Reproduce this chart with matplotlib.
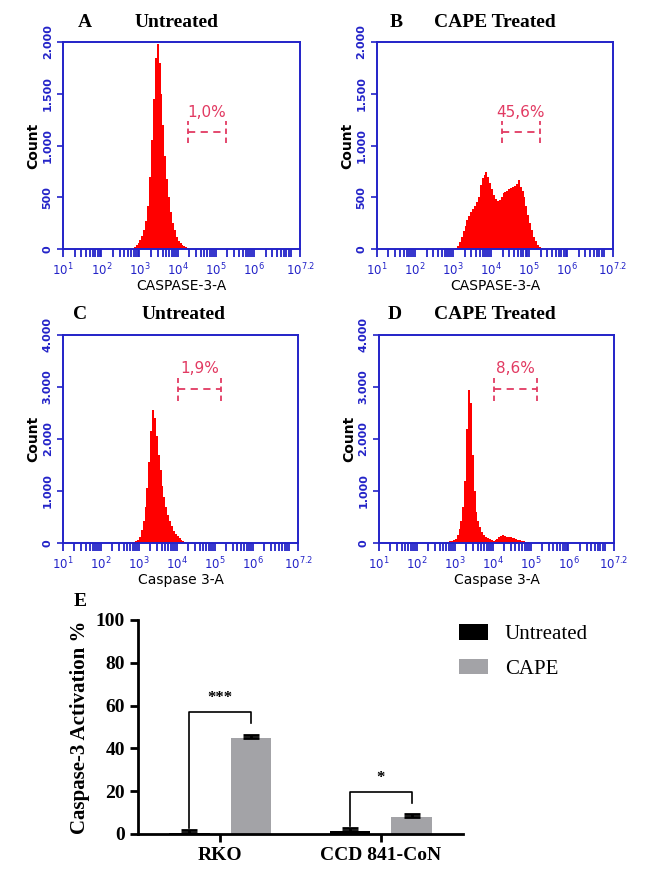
import numpy as np
import matplotlib.pyplot as plt
from matplotlib.ticker import FuncFormatter, LogLocator, NullFormatter

# flow histograms: counts in bins of 0.05 decade, first left edge (log10) given
bin_step = 0.05

a_start = 2.85
a_counts = [20, 40, 60, 90, 130, 180, 270, 420, 700, 1050, 1450, 1850, 1980, 1800,
            1500, 1200, 900, 680, 500, 360, 250, 180, 120, 80, 55, 40, 30, 20, 10]

b_start = 3.05
b_counts = [5, 30, 70, 120, 170, 220, 280, 320, 360, 390, 420, 450, 500, 620, 690,
            720, 740, 700, 640, 580, 520, 480, 460, 470, 500, 540, 550, 560, 580,
            590, 600, 610, 630, 670, 600, 560, 500, 420, 330, 250, 180, 120, 75, 40,
            20, 5]

c_start = 2.85
c_counts = [15, 30, 60, 120, 250, 420, 700, 1050, 1550, 2150, 2550, 2400, 2050,
            1700, 1400, 1100, 880, 700, 540, 420, 320, 240, 180, 130, 90, 60, 35, 15]

d_start = 2.75
d_counts = [10, 20, 30, 40, 50, 80, 150, 260, 420, 700, 1200, 2200, 2950, 2700,
            1700, 1000, 600, 420, 300, 220, 160, 120, 90, 70, 55, 45, 50, 80, 120,
            140, 150, 140, 125, 120, 110, 100, 90, 80, 65, 50, 40, 30, 20, 10]

# gates (log10 x range, y level) and percentages
gate_lo = [4.27, 4.28, 4.03, 4.03]
gate_hi = [5.26, 5.28, 5.17, 5.17]
gate_y = [1130, 1130, 2960, 2960]
gate_pct = ['1,0%', '45,6%', '1,9%', '8,6%']

hist_ymax = [2000, 2000, 4000, 4000]
hist_xlabel = ['CASPASE-3-A', 'CASPASE-3-A', 'Caspase 3-A', 'Caspase 3-A']
panel_letter = ['A', 'B', 'C', 'D']
panel_title = ['Untreated', 'CAPE Treated', 'Untreated', 'CAPE Treated']
decades = ['1', '2', '3', '4', '5', '6', '7.2']

# bar chart
cells = ['RKO', 'CCD 841-CoN']
untreated = [0.6, 1.5]
untreated_err = [1.2, 1.3]
cape = [44.9, 8.1]
cape_err = [1.4, 1.2]
sig_top = [57, 19.6]
sig_left = [3, 3.5]
sig_right = [52, 14.5]
sig_text = ['***', '*']

blue = '#2323c8'
gate_red = '#e23a62'

fig = plt.figure(figsize=(6.5, 8.89), dpi=100)

rects = [(0.097, 0.7199, 0.3646, 0.2328), (0.58, 0.7199, 0.363, 0.2328),
         (0.097, 0.3892, 0.3615, 0.234), (0.583, 0.3892, 0.3615, 0.234)]
letter_pos = [(0.131, 0.975), (0.609, 0.975), (0.123, 0.646), (0.607, 0.646)]
title_pos = [(0.272, 0.975), (0.762, 0.975), (0.282, 0.646), (0.762, 0.646)]

starts = [a_start, b_start, c_start, d_start]
counts = [a_counts, b_counts, c_counts, d_counts]

for i in range(4):
    ax = fig.add_axes(rects[i])
    n = len(counts[i])
    edges = 10 ** (starts[i] + bin_step * np.arange(n + 1))
    ax.stairs(counts[i], edges, fill=True, color='#ff0000', lw=0)
    ax.set_xscale('log')
    ax.set_xlim(10, 10 ** 7.2)
    ax.set_ylim(0, hist_ymax[i])
    for s in ax.spines.values():
        s.set_color(blue)
        s.set_linewidth(1.4)
    ax.set_yticks(np.linspace(0, hist_ymax[i], 5))
    ax.yaxis.set_major_formatter(FuncFormatter(lambda v, p: '0' if v == 0 else '{:,.0f}'.format(v).replace(',', '.')))
    ax.tick_params(axis='y', colors=blue, labelsize=8, length=4, width=1.2)
    for lab in ax.get_yticklabels():
        lab.set_rotation(90)
        lab.set_va('center')
        lab.set_fontweight('bold')
    ax.set_xticks([10 ** float(e) for e in decades])
    ax.set_xticklabels([r'$10^{%s}$' % e for e in decades])
    ax.xaxis.set_minor_locator(LogLocator(base=10, subs=np.arange(2, 10), numticks=20))
    ax.xaxis.set_minor_formatter(NullFormatter())
    ax.tick_params(axis='x', which='both', colors=blue, labelsize=8.5, length=6, width=1.3,
                   pad=3)
    ax.set_xlabel(hist_xlabel[i], fontsize=10, labelpad=1)
    ax.set_ylabel('Count', fontsize=10, fontweight='bold', labelpad=2)

    # gate
    lo, hi, gy = 10 ** gate_lo[i], 10 ** gate_hi[i], gate_y[i]
    dy = hist_ymax[i] * 0.055
    ax.plot([lo, hi], [gy, gy], color=gate_red, lw=1.3, ls=(0, (4, 3)))
    ax.plot([lo, lo], [gy - dy, gy + dy], color=gate_red, lw=1.3, ls=(0, (3, 2)))
    ax.plot([hi, hi], [gy - dy, gy + dy], color=gate_red, lw=1.3, ls=(0, (3, 2)))
    ax.text(10 ** ((gate_lo[i] + gate_hi[i]) / 2), gy + dy * 1.1, gate_pct[i],
            color=gate_red, fontsize=11, ha='center', va='bottom')

    fig.text(letter_pos[i][0], letter_pos[i][1], panel_letter[i], fontsize=14,
             fontweight='bold', family='Liberation Serif', ha='center', va='center')
    fig.text(title_pos[i][0], title_pos[i][1], panel_title[i], fontsize=14,
             fontweight='bold', family='Liberation Serif', ha='center', va='center')

# panel E
axe = fig.add_axes([0.2123, 0.0619, 0.5, 0.2407])
x = np.arange(len(cells))
w = 0.25
off = 0.19
axe.bar(x - off, untreated, w, color='black', label='Untreated',
        yerr=[[0] * 2, untreated_err], capsize=6, error_kw=dict(lw=2, capthick=2))
axe.bar(x + off, cape, w, color='#a3a3a7', label='CAPE',
        yerr=[[0] * 2, cape_err], capsize=6, error_kw=dict(lw=2, capthick=2))
for j in range(len(cells)):
    axe.plot([x[j] - off, x[j] - off, x[j] + off, x[j] + off],
             [sig_left[j], sig_top[j], sig_top[j], sig_right[j]], color='black', lw=1.2)
    axe.text(x[j], sig_top[j] + 3, sig_text[j], ha='center', va='bottom',
             fontsize=12, fontweight='bold', family='Liberation Serif')
axe.set_xlim(-0.51, 1.51)
axe.set_ylim(0, 100)
axe.set_yticks([0, 20, 40, 60, 80, 100])
axe.set_xticks(x)
axe.set_xticklabels(cells)
axe.spines['top'].set_visible(False)
axe.spines['right'].set_visible(False)
axe.spines['left'].set_linewidth(2)
axe.spines['bottom'].set_linewidth(2)
axe.tick_params(width=2, length=6, labelsize=14)
for lab in axe.get_xticklabels() + axe.get_yticklabels():
    lab.set_fontweight('bold')
    lab.set_family('Liberation Serif')
axe.set_ylabel('Caspase-3 Activation %', fontsize=15, fontweight='bold',
               family='Liberation Serif', labelpad=4)
axe.legend(loc='upper left', bbox_to_anchor=(0.93, 1.07), frameon=False,
           prop={'family': 'Liberation Serif', 'size': 15},
           handlelength=1.4, handleheight=0.8, labelspacing=0.7, handletextpad=0.8)
fig.text(0.123, 0.323, 'E', fontsize=14, fontweight='bold',
         family='Liberation Serif', ha='center', va='center')

fig.savefig('out.png', dpi=100)
